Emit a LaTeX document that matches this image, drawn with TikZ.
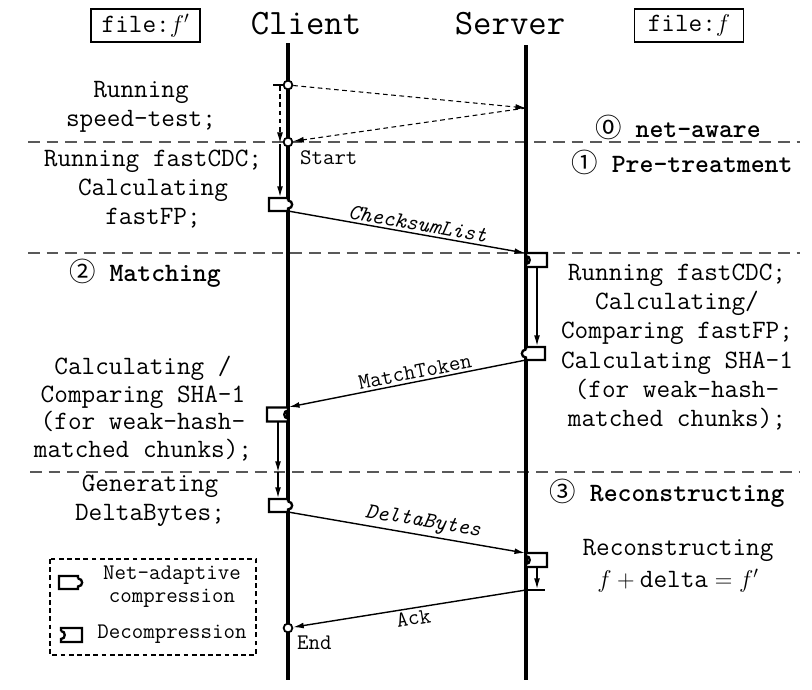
\documentclass[tikz,border=0pt]{standalone}
\usepackage{fontspec}
\newfontfamily\circfont{Noto Sans CJK SC}
\usepackage{amsmath}
\usetikzlibrary{arrows.meta}

\begin{document}
\begin{tikzpicture}[x=0.03cm,y=-0.03cm,
    lifeline/.style={line width=2.6pt},
    msg/.style={line width=1.2pt,-{Latex[length=9pt,width=5pt]}},
    probe/.style={line width=0.9pt,dash pattern=on 4pt off 3pt,-{Latex[length=9pt,width=5pt]}},
    phaseline/.style={line width=1.6pt,black!65,dash pattern=on 10pt off 6pt},
    dot/.style={circle,draw,line width=1.5pt,fill=white,inner sep=0pt,minimum size=7.5pt},
    note/.style={align=center,font=\ttfamily\fontsize{22.6}{24.7}\selectfont},
    small/.style={align=center,font=\ttfamily\fontsize{19}{19.6}\selectfont},
    head/.style={font=\ttfamily\fontsize{30.5}{32}\selectfont},
    phase/.style={font=\ttfamily\fontsize{22.6}{24.7}\selectfont\bfseries},
    filebox/.style={draw,line width=1.3pt,minimum width=3.27cm,minimum height=0.99cm,inner sep=0pt,font=\ttfamily\fontsize{22.6}{24.7}\selectfont},
    squeeze/.pic={\draw[line width=2pt,fill=white] (0,-4) -- (0,-6.5) -- (-19,-6.5) -- (-19,6.5) -- (0,6.5) -- (0,4) .. controls (5.5,4) and (5.5,-4) .. (0,-4);},
    unsqueeze/.pic={\draw[line width=2pt,fill=white] (0,-4) -- (0,-7) -- (21,-7) -- (21,7) -- (0,7) -- (0,4) .. controls (5,4) and (5,-4) .. (0,-4);}
  ]
  \useasboundingbox (0,0) rectangle (812,689);

  % headers
  \node[filebox] (fileC) at (145.5,25.5) {file:$f'$};
  \node[filebox] (fileS) at (689,25.5) {file:$f$};
  \node[head] (client) at (306,24) {Client};
  \node[head] (server) at (510,24) {Server};

  % phase separators
  \draw[phaseline] (28,142) -- (800,142);
  \draw[phaseline] (28,253) -- (800,253);
  \draw[phaseline] (30,472) -- (800,472);

  % lifelines
  \coordinate (cTop) at (288,43);
  \coordinate (cBot) at (288,680);
  \coordinate (sTop) at (526,45);
  \coordinate (sBot) at (526,680);
  \draw[lifeline] (cTop) -- (cBot);
  \draw[lifeline] (sTop) -- (sBot);

  % 0 net-aware
  \coordinate (sv0) at (526,108);
  \draw[line width=1.3pt] (273,85) -- (288,85);
  \draw[probe] (280,86) -- (280,143);
  \node[dot] (st0) at (288,85) {};
  \node[dot] (st1) at (288,142) {};
  \draw[probe] (st0) -- (sv0);
  \draw[probe] (sv0) -- (st1);
  \node[note] (speed) at (141,106.5) {Running\\speed-test;};
  \node[small,anchor=west] (start) at (296,158) {Start};
  \node[phase] (ph0) at (678,127) {{\circfont\mdseries ⓪} net-aware};

  % 1 pre-treatment
  \node[phase] (ph1) at (682,162) {{\circfont\mdseries ①} Pre-treatment};
  \node[note] (pre) at (153,189) {Running fastCDC;\\Calculating\\fastFP;};
  \draw[msg] (280,144) -- (280,197);
  \pic at (288,204.5) {squeeze};
  \coordinate (c2) at (288,211);
  \coordinate (s2) at (525,253);
  \draw[msg] (c2) -- node[small,sloped,above,pos=0.54,inner sep=2pt] {\itshape ChecksumList} (s2);

  % 2 matching
  \node[phase] (ph2) at (145,273) {{\circfont\mdseries ②} Matching};
  \pic at (526,260) {unsqueeze};
  \draw[msg] (537,267) -- (537,346);
  \pic[xscale=-1] at (526,353.5) {squeeze};
  \node[note,font=\ttfamily\fontsize{22.6}{25}\selectfont] (srvmatch) at (677,347) {Running fastCDC;\\Calculating/\\Comparing fastFP;\\Calculating SHA-1\\(for weak-hash-\\matched chunks);};
  \coordinate (s4) at (526,360);
  \coordinate (c4) at (289,407);
  \draw[msg] (s4) -- node[small,sloped,above,pos=0.46,inner sep=2pt] {MatchToken} (c4);
  \pic[xscale=-1] at (288,414.5) {unsqueeze};
  \node[note,font=\ttfamily\fontsize{22.6}{23.6}\selectfont] (climatch) at (143,408.5) {Calculating /\\Comparing SHA-1\\(for weak-hash-\\matched chunks);};
  \draw[msg] (278,422) -- (278,472);

  % 3 reconstructing
  \node[phase] (ph3) at (667,493) {{\circfont\mdseries ③} Reconstructing};
  \draw[msg] (278,472) -- (278,498);
  \node[note] (gen) at (150,501) {Generating\\DeltaBytes;};
  \pic at (288,505.5) {squeeze};
  \coordinate (c6) at (288,512);
  \coordinate (s6) at (525,553);
  \draw[msg] (c6) -- node[small,sloped,above,pos=0.56,inner sep=2pt] {\itshape DeltaBytes} (s6);
  \pic at (526,560) {unsqueeze};
  \draw[msg] (537,567) -- (537,589);
  \draw[line width=2pt] (526,590) -- (545,590);
  \node[note,font=\ttfamily\fontsize{22.6}{27}\selectfont] (recon) at (678,566) {Reconstructing\\$f+{}$delta${}=f'$};
  \coordinate (s7) at (526,590);
  \node[dot] (fin) at (288,628) {};
  \draw[msg] (s7) -- node[small,sloped,below,pos=0.49,inner sep=2pt] {Ack} (fin);
  \node[small,anchor=west] (endlbl) at (293,643) {End};

  % legend
  \draw[line width=1.2pt,dash pattern=on 4pt off 3pt] (50,559) rectangle (256,655);
  \pic at (78,582.5) {squeeze};
  \node[small] (lgcomp) at (172,586.5) {Net-adaptive\\compression};
  \pic at (61,635) {unsqueeze};
  \node[small] (lgdec) at (172,634) {Decompression};
\end{tikzpicture}
\end{document}
